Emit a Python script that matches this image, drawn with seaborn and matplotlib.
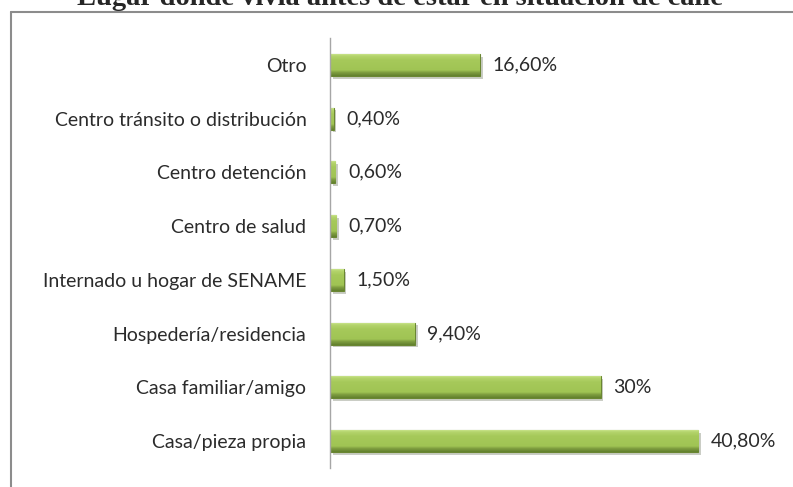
import numpy as np
import pandas as pd
import matplotlib
matplotlib.use("Agg")
import matplotlib.pyplot as plt
import matplotlib.patheffects as pe
import seaborn as sns
from matplotlib.lines import Line2D
from matplotlib.colors import LinearSegmentedColormap

categories = ["Otro", "Centro tránsito o distribución", "Centro detención",
              "Centro de salud", "Internado u hogar de SENAME",
              "Hospedería/residencia", "Casa familiar/amigo", "Casa/pieza propia"]
values = [16.6, 0.4, 0.6, 0.7, 1.5, 9.4, 30.0, 40.8]
value_labels = ["16,60%", "0,40%", "0,60%", "0,70%", "1,50%", "9,40%", "30%", "40,80%"]
title = "Lugar donde vivía antes de estar en situación de calle"

df = pd.DataFrame({"lugar": categories, "pct": values})

sns.set_style("white")
plt.rcParams['font.family'] = ['Lato', 'DejaVu Sans']

W, H = 793, 487
fig = plt.figure(figsize=(W / 100, H / 100), dpi=100)
ax = fig.add_axes([330 / W, (H - 468) / H, 451 / W, (468 - 38) / H])

sns.barplot(data=df, x="pct", y="lugar", order=categories, color="#9bbb59",
            width=0.41, edgecolor="#6a8632", linewidth=0.8, saturation=1, ax=ax)

# glossy green fill like the original office chart
cmap = LinearSegmentedColormap.from_list(
    "g", [(0, "#d2ea98"), (0.12, "#b4d46c"), (0.3, "#a6c95a"), (0.75, "#a0c454"),
          (0.85, "#7f9e40"), (1, "#62802e")])
grad = np.linspace(0, 1, 64).reshape(-1, 1)
for p in ax.patches:
    p.set_path_effects([pe.SimplePatchShadow(offset=(2, -2), alpha=0.25), pe.Normal()])
    x0, y0, w, h = p.get_x(), p.get_y(), p.get_width(), p.get_height()
    im = ax.imshow(grad, cmap=cmap, aspect="auto", origin="upper",
                   extent=[x0, x0 + w, y0 + h, y0], zorder=p.get_zorder() + 0.1)
    im.set_clip_path(p)

for p, lab in zip(ax.patches, value_labels):
    ax.annotate(lab, (p.get_width(), p.get_y() + p.get_height() / 2),
                xytext=(9, 0), textcoords="offset points", va="center", ha="left",
                fontsize=14, color="#2b2b2b")

ax.set_xlim(0, 50)
ax.set_ylim(len(categories) - 0.5, -0.5)
ax.set_xlabel("")
ax.set_ylabel("")
ax.set_xticks([])
ax.tick_params(axis="y", length=0, pad=17, labelsize=14, labelcolor="#2b2b2b")
for s in ["top", "right", "bottom"]:
    ax.spines[s].set_visible(False)
ax.spines["left"].set_color("#a6a6a6")
ax.spines["left"].set_linewidth(1.0)

# outer chart frame (partially visible)
fig.add_artist(Line2D([11 / W, 1], [1 - 12 / H, 1 - 12 / H], color="#8c8c8c", lw=1.5))
fig.add_artist(Line2D([11 / W, 11 / W], [0, 1 - 12 / H], color="#8c8c8c", lw=1.5))

fig.text(400 / W, 1 - 5 / H, title, ha="center", va="baseline",
         family="Liberation Serif", fontweight="bold", fontsize=20.5)

fig.savefig("out.png", dpi=100)
